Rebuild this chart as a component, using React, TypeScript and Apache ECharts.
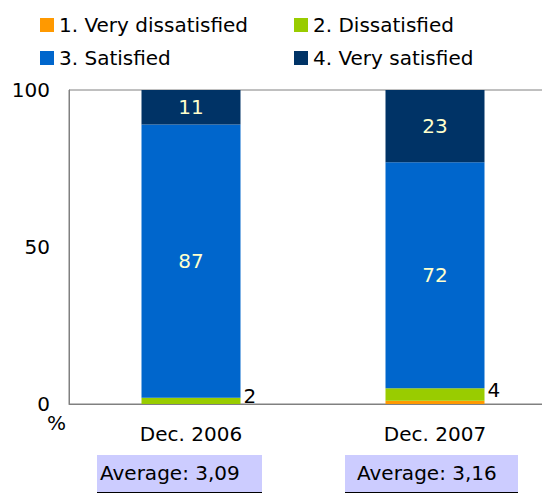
import React, { useEffect, useRef } from "react";
import * as echarts from "echarts";

const categories = ["Dec. 2006", "Dec. 2007"];
const seriesNames = ["1. Very dissatisfied", "2. Dissatisfied", "3. Satisfied", "4. Very satisfied"];
const veryDissatisfied = [0, 1];
const dissatisfied = [2, 4];
const satisfied = [87, 72];
const verySatisfied = [11, 23];
const averageLabels = ["Average: 3,09", "Average: 3,16"];
const yMin = 0;
const yMax = 100;
const yInterval = 50;

const colors = ["#FF9900", "#99CC00", "#0066CC", "#003366"];
const FONT = "DejaVu Sans";
const FS = 20;

export default function App() {
  const ref = useRef<HTMLDivElement>(null);
  useEffect(() => {
    if (!ref.current) return;
    const chart = echarts.init(ref.current, null, { renderer: "svg" });
    const values = [veryDissatisfied, dissatisfied, satisfied, verySatisfied];
    const insideLabel = {
      show: true,
      position: "inside",
      color: "#FFFFCC",
      fontFamily: FONT,
      fontSize: FS,
      formatter: (p: any) => (p.value > 5 ? String(p.value) : ""),
    };
    const series = seriesNames.map((name, i) => ({
      name,
      type: "bar",
      stack: "total",
      barWidth: 99,
      data: values[i],
      itemStyle: { color: colors[i] },
      label:
        i === 1
          ? {
              show: true,
              position: "right",
              distance: 3,
              offset: [0, -5],
              color: "#000",
              fontFamily: FONT,
              fontSize: FS,
            }
          : i === 0
          ? { show: false }
          : insideLabel,
    }));
    const legendText = { fontFamily: FONT, fontSize: FS, color: "#000", lineHeight: 22 };
    const legendBase = {
      orient: "vertical",
      top: 14,
      padding: 0,
      itemWidth: 14,
      itemHeight: 14,
      itemGap: 11,
      icon: "rect",
      textStyle: legendText,
    };
    chart.setOption({
      animation: false,
      textStyle: { fontFamily: FONT },
      legend: [
        { ...legendBase, data: [seriesNames[0], seriesNames[2]], left: 40 },
        { ...legendBase, data: [seriesNames[1], seriesNames[3]], left: 294 },
      ],
      grid: {
        left: 69,
        top: 90,
        width: 488,
        height: 314,
        show: true,
        borderColor: "#808080",
        borderWidth: 1,
        containLabel: false,
      },
      xAxis: {
        type: "category",
        data: categories,
        axisLine: { show: true, lineStyle: { color: "#808080", width: 1 } },
        axisTick: { show: false },
        axisLabel: { color: "#000", fontFamily: FONT, fontSize: FS, margin: 20 },
      },
      yAxis: {
        type: "value",
        min: yMin,
        max: yMax,
        interval: yInterval,
        splitLine: { show: false },
        axisLine: { show: true, lineStyle: { color: "#808080", width: 1 } },
        axisTick: { show: false },
        axisLabel: { color: "#000", fontFamily: FONT, fontSize: FS, margin: 19 },
      },
      series,
      graphic: [
        {
          type: "text",
          left: 47,
          top: 413,
          style: { text: "%", fill: "#000", font: `${FS}px "${FONT}"` },
        },
        {
          type: "rect",
          shape: { x: 97, y: 455, width: 165, height: 37 },
          style: { fill: "#CCCCFF", stroke: "none" },
        },
        {
          type: "line",
          shape: { x1: 97, y1: 492.5, x2: 262, y2: 492.5 },
          style: { stroke: "#000", lineWidth: 1 },
        },
        {
          type: "text",
          x: 100,
          y: 473,
          style: {
            text: averageLabels[0],
            fill: "#000",
            font: `${FS}px "${FONT}"`,
            verticalAlign: "middle",
            align: "left",
          },
        },
        {
          type: "rect",
          shape: { x: 345, y: 455, width: 173, height: 37 },
          style: { fill: "#CCCCFF", stroke: "none" },
        },
        {
          type: "line",
          shape: { x1: 345, y1: 492.5, x2: 518, y2: 492.5 },
          style: { stroke: "#000", lineWidth: 1 },
        },
        {
          type: "text",
          x: 357,
          y: 473,
          style: {
            text: averageLabels[1],
            fill: "#000",
            font: `${FS}px "${FONT}"`,
            verticalAlign: "middle",
            align: "left",
          },
        },
      ],
    });
    return () => chart.dispose();
  }, []);
  return (
    <div
      style={{
        position: "fixed",
        left: 0,
        top: 0,
        width: 542,
        height: 495,
        overflow: "hidden",
        background: "#fff",
      }}
    >
      <div ref={ref} style={{ width: 580, height: 495 }} />
    </div>
  );
}
